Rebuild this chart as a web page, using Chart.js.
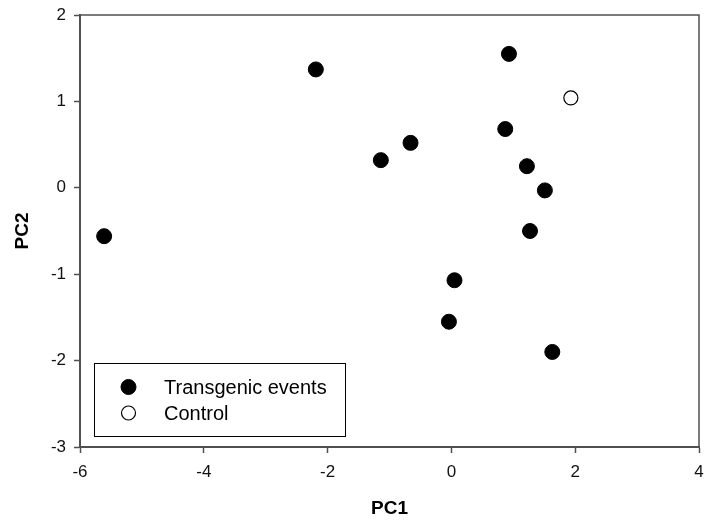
<!DOCTYPE html>
<html>
<head>
<meta charset="utf-8">
<title>PCA scores</title>
<script src="https://cdn.jsdelivr.net/npm/chart.js@4.4.1/dist/chart.umd.min.js"></script>
<style>
  html, body { margin: 0; padding: 0; background: #fff; }
  #wrap { width: 704px; height: 522px; }
</style>
</head>
<body>
<div id="wrap"><canvas id="pcaChart" width="704" height="522"></canvas></div>
<script>
// PC scores for each transgenic event and the control line
const eventPC1 = [-5.61, -2.19, 0.93, 0.87, -0.66, -1.14, 1.22, 1.51, 1.27, 0.05, -0.04, 1.63];
const eventPC2 = [-0.56, 1.37, 1.55, 0.68, 0.52, 0.32, 0.25, -0.03, -0.50, -1.07, -1.55, -1.90];
const controlPC1 = [1.93];
const controlPC2 = [1.04];

const seriesNames = ["Transgenic events", "Control"];
const xTicks = [-6, -4, -2, 0, 2, 4];
const yTicks = [-3, -2, -1, 0, 1, 2];

const FONT = "Arial, 'Liberation Sans', sans-serif";
const AXIS_COLOR = "#505050";

function toPoints(xs, ys) {
    return xs.map((x, i) => ({ x: x, y: ys[i] }));
}

// Top and right edges of the frame plus the boxed legend inside the plot
const frameAndLegend = {
    id: "frameAndLegend",
    afterDraw(chart) {
        const ctx = chart.ctx;
        const area = chart.chartArea;
        ctx.save();
        ctx.strokeStyle = AXIS_COLOR;
        ctx.lineWidth = 1.5;
        ctx.beginPath();
        ctx.moveTo(area.left, area.top);
        ctx.lineTo(area.right, area.top);
        ctx.lineTo(area.right, area.bottom);
        ctx.stroke();

        // legend box
        const bx = 94.5, by = 363.5, bw = 251, bh = 73;
        ctx.strokeStyle = "#000";
        ctx.lineWidth = 1;
        ctx.strokeRect(bx, by, bw, bh);

        ctx.font = "20px " + FONT;
        ctx.textBaseline = "middle";
        ctx.textAlign = "left";
        chart.data.datasets.forEach((ds, i) => {
            const cy = 387 + i * 26;
            ctx.beginPath();
            ctx.arc(128.5, cy, ds.pointRadius, 0, Math.PI * 2);
            ctx.fillStyle = ds.backgroundColor;
            ctx.fill();
            ctx.lineWidth = ds.borderWidth;
            ctx.strokeStyle = ds.borderColor;
            ctx.stroke();
            ctx.fillStyle = "#000";
            ctx.fillText(ds.label, 164, cy + 1);
        });
        ctx.restore();
    }
};

const ctx = document.getElementById("pcaChart").getContext("2d");
new Chart(ctx, {
    type: "scatter",
    data: {
        datasets: [{
            label: seriesNames[0],
            data: toPoints(eventPC1, eventPC2),
            backgroundColor: "#000",
            borderColor: "#000",
            borderWidth: 1,
            pointRadius: 7.5,
            pointHoverRadius: 7.5
        }, {
            label: seriesNames[1],
            data: toPoints(controlPC1, controlPC2),
            backgroundColor: "#fff",
            borderColor: "#000",
            borderWidth: 1.2,
            pointRadius: 7,
            pointHoverRadius: 7
        }]
    },
    options: {
        responsive: false,
        animation: false,
        layout: { autoPadding: false, padding: { top: 15, right: 5, left: 0, bottom: 0 } },
        plugins: {
            legend: { display: false },
            tooltip: { enabled: false }
        },
        scales: {
            x: {
                type: "linear",
                min: -6,
                max: 4,
                afterBuildTicks: (scale) => { scale.ticks = xTicks.map(v => ({ value: v })); },
                afterFit: (scale) => {
                    scale.height = 75;
                    scale.paddingLeft = 0;
                    scale.paddingRight = 0;
                },
                grid: { drawOnChartArea: false, drawTicks: true, tickLength: 6, tickColor: AXIS_COLOR, tickWidth: 1.5 },
                border: { display: true, color: AXIS_COLOR, width: 2 },
                ticks: { color: "#111", font: { family: FONT, size: 17 }, padding: 9, maxRotation: 0 },
                title: { display: true, text: "PC1", color: "#000", font: { family: FONT, size: 19, weight: "bold" }, padding: { bottom: 2 } }
            },
            y: {
                type: "linear",
                min: -3,
                max: 2,
                afterBuildTicks: (scale) => { scale.ticks = yTicks.map(v => ({ value: v })); },
                afterFit: (scale) => {
                    scale.width = 80;
                    scale.paddingTop = 0;
                    scale.paddingBottom = 0;
                },
                grid: { drawOnChartArea: false, drawTicks: true, tickLength: 6, tickColor: AXIS_COLOR, tickWidth: 1.5 },
                border: { display: true, color: AXIS_COLOR, width: 2 },
                ticks: { color: "#111", font: { family: FONT, size: 17 }, padding: 8 },
                title: { display: true, text: "PC2", color: "#000", font: { family: FONT, size: 19, weight: "bold" }, padding: { top: 11 } }
            }
        }
    },
    plugins: [frameAndLegend]
});
</script>
</body>
</html>
